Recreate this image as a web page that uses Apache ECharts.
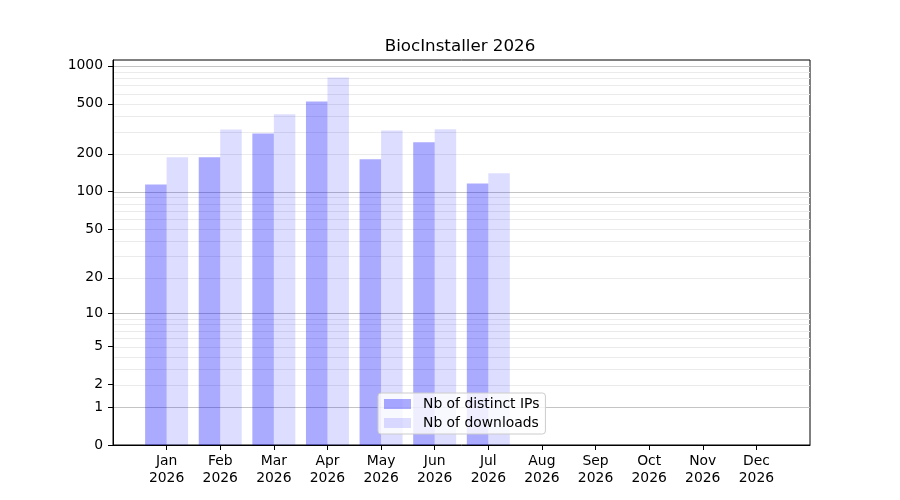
<!DOCTYPE html>
<html>
<head>
<meta charset="utf-8">
<script src="https://cdn.jsdelivr.net/npm/echarts@6/dist/echarts.min.js"></script>
<style>html,body{margin:0;padding:0;background:#fff}#c{width:900px;height:500px}</style>
</head>
<body>
<div id="c"></div>
<script>
const titleText = 'BiocInstaller 2026';
const months = ['Jan','Feb','Mar','Apr','May','Jun','Jul','Aug','Sep','Oct','Nov','Dec'];
const year = '2026';
const distinctIPs = [114, 188, 291, 522, 181, 247, 116];
const downloads = [188, 313, 412, 808, 307, 314, 140];
const yTickValues = [0, 1, 2, 5, 10, 20, 50, 100, 200, 500, 1000];
const majorGrid = [1, 10, 100, 1000];
const minorGrid = [2,3,4,5,6,7,8,9,20,30,40,50,60,70,80,90,200,300,400,500,600,700,800,900];

const f = v => Math.log10(1 + v);
const inv = t => Math.round(Math.pow(10, t) - 1);
const categories = ['', ...months.map(m => m + '\n' + year), ''];
function pad(arr) {
  const out = [null];
  for (let i = 0; i < months.length; i++) out.push(i < arr.length ? f(arr[i]) : null);
  out.push(null);
  return out;
}
const gridData = [
  ...minorGrid.map(v => [f(v), 0]),
  ...majorGrid.map(v => [f(v), 1])
];
const font = 'DejaVu Sans';
const chart = echarts.init(document.getElementById('c'), null, {renderer: 'canvas'});
chart.setOption({
  animation: false,
  backgroundColor: '#fff',
  title: {
    text: titleText, left: 455, top: 33, textAlign: 'center',
    textStyle: {fontFamily: font, fontSize: 16.7, fontWeight: 'normal', color: '#000'}
  },
  grid: {left: 113, right: 90, top: 60, bottom: 55, show: true, borderColor: '#000', borderWidth: 1, backgroundColor: 'transparent'},
  legend: {
    orient: 'vertical', left: 378, top: 393,
    padding: [4, 6, 4, 6], itemGap: 5, itemWidth: 27, itemHeight: 10,
    icon: 'rect',
    backgroundColor: 'rgba(255,255,255,0.8)', borderColor: '#cccccc', borderWidth: 1, borderRadius: 3,
    textStyle: {fontFamily: font, fontSize: 13.9, color: '#000', lineHeight: 14, padding: [0, 0, 0, 7]},
    data: ['Nb of distinct IPs', 'Nb of downloads']
  },
  xAxis: {
    type: 'category', data: categories, boundaryGap: false,
    axisLine: {lineStyle: {color: '#000', width: 1}},
    axisTick: {length: 5, lineStyle: {color: '#000'}, interval: (i, v) => v !== ''},
    axisLabel: {interval: 0, margin: 8, fontFamily: font, fontSize: 13.9, color: '#000', lineHeight: 17, align: 'center'},
    splitLine: {show: false}
  },
  yAxis: {
    type: 'value', min: 0, max: 3.046,
    axisLine: {show: true, lineStyle: {color: '#000', width: 1}},
    axisTick: {show: true, length: 5, lineStyle: {color: '#000'}, customValues: yTickValues.map(f)},
    axisLabel: {margin: 10, fontFamily: font, fontSize: 13.9, color: '#000', customValues: yTickValues.map(f), formatter: v => String(inv(v))},
    splitLine: {show: false}
  },
  series: [
    {
      type: 'custom', z: 1, silent: true, data: gridData,
      encode: {y: 0},
      clip: true,
      renderItem: (params, api) => {
        const cs = params.coordSys;
        const y = api.coord([0, api.value(0)])[1];
        const major = api.value(1) === 1;
        return {
          type: 'line',
          shape: {x1: cs.x + 1, y1: Math.round(y) + 0.5, x2: cs.x + cs.width, y2: Math.round(y) + 0.5},
          style: {stroke: major ? '#c4c4c4' : '#ebebeb', lineWidth: 1}
        };
      }
    },
    {
      name: 'Nb of distinct IPs', type: 'bar', z: 2, data: pad(distinctIPs),
      barWidth: 21.5, barGap: '0%',
      itemStyle: {color: 'rgba(0,0,255,0.333)'}
    },
    {
      name: 'Nb of downloads', type: 'bar', z: 2, data: pad(downloads),
      barWidth: 21.5, barGap: '0%',
      itemStyle: {color: 'rgba(0,0,255,0.135)'}
    }
  ]
});
</script>
</body>
</html>
